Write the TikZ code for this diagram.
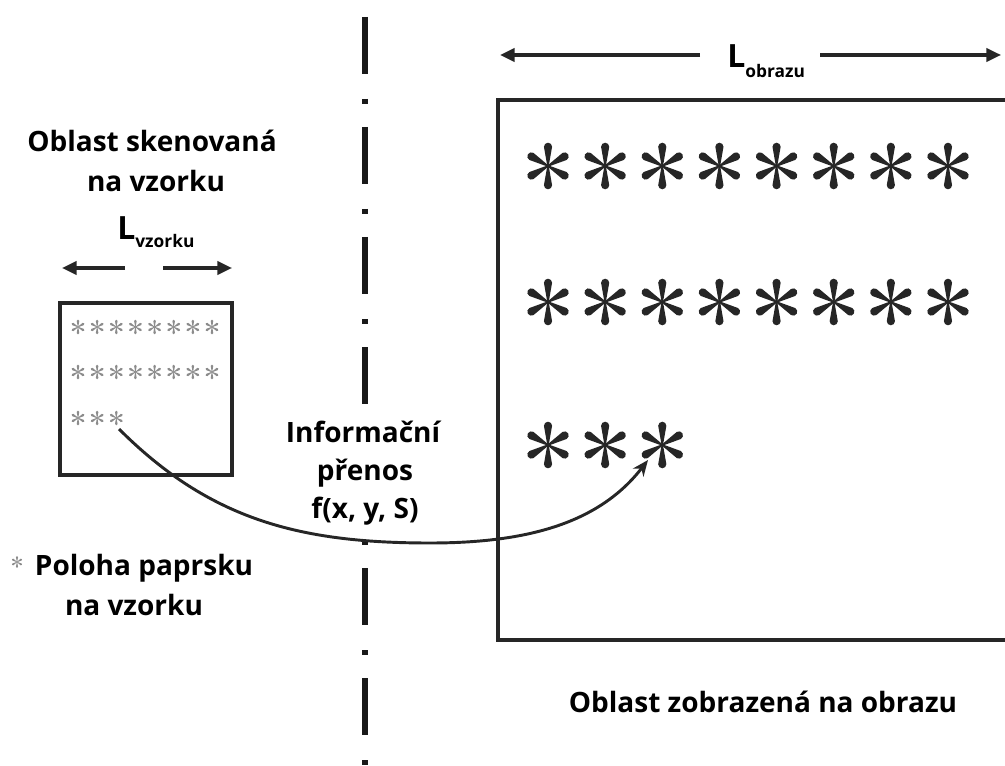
\documentclass[tikz,border=0pt]{standalone}
\usepackage{fontspec}
\setmainfont{Open Sans}
\usetikzlibrary{arrows.meta}
\begin{document}
\begin{tikzpicture}[x=0.75pt,y=-0.75pt,
  txt/.style={font=\fontsize{21}{25}\selectfont\bfseries, inner sep=0pt, anchor=base},
  lbl/.style={font=\fontsize{24}{24}\selectfont\bfseries, inner sep=0pt, anchor=base west},
  frame/.style={draw=black!85, line width=2.5pt},
  dimarrow/.style={draw=black!85, line width=2.3pt, -{Triangle[length=11pt,width=10pt]}},
  conn/.style={draw=black!85, line width=2.2pt, -{Stealth[length=12pt,width=10pt]}},
  axis/.style={draw=black!90, line width=3.8pt},
  bigstar/.style={black!85, scale=24},
  smallstar/.style={black!45, scale=7.5},
  ast/.pic={
    \foreach \a in {90,30,-30,-90,-150,150}{
      \fill[rotate=\a] (0,-0.03) -- (0.80,-0.17) arc[start angle=-90,end angle=90,radius=0.17] -- (0,0.03) -- cycle;}
    \fill (0,0) circle (0.07);}
]
\path[use as bounding box] (0,0) rectangle (1005,766);
\clip (0,0) rectangle (1005,766);

% dash-dot divider
\coordinate (axA) at (365,17);
\coordinate (axB) at (365,404);
\coordinate (axC) at (365,540);
\coordinate (axD) at (365,770);
\draw[axis, dash pattern=on 42.75pt off 18.75pt on 3.75pt off 17.25pt] (axA) -- (axB);
\draw[axis, dash pattern=on 42.75pt off 18.75pt on 3.75pt off 17.25pt, dash phase=61.5pt] (axC) -- (axD);

% left side: scanned area
\node[txt] (t1) at (152,152) {Oblast skenovaná};
\node[txt] (t2) at (156,192) {na vzorku};
\node[lbl] (lv) at (117,240) {L\raisebox{-6pt}{\fontsize{13}{13}\selectfont vzorku}};
\coordinate (lvLs) at (125,268);
\coordinate (lvL) at (62,268);
\coordinate (lvRs) at (163,268);
\coordinate (lvR) at (232,268);
\draw[dimarrow] (lvLs) -- (lvL);
\draw[dimarrow] (lvRs) -- (lvR);

\draw[frame] (60,303) rectangle (232,475);
\foreach \i in {0,...,7}{
  \pic[smallstar] at ({78+19.14*\i},327) {ast};
  \pic[smallstar] at ({78+19.14*\i},372) {ast};
}
\foreach \i in {0,1,2}{
  \pic[smallstar] at ({78+19.14*\i},418) {ast};
}

% legend
\pic[smallstar, scale=0.8] at (17,562) {ast};
\node[txt] (p1) at (144,575) {Poloha paprsku};
\node[txt] (p2) at (134,615) {na vzorku};

% right side: image area
\node[lbl] (lo) at (727,68) {L\raisebox{-7.5pt}{\fontsize{13}{13}\selectfont obrazu}};
\coordinate (loLs) at (700,55);
\coordinate (loL) at (500,55);
\coordinate (loRs) at (820,55);
\coordinate (loR) at (1001,55);
\draw[dimarrow] (loLs) -- (loL);
\draw[dimarrow] (loRs) -- (loR);

\draw[frame] (498,100) rectangle (1020,640);
\foreach \i in {0,...,7}{
  \pic[bigstar] at ({548+57.14*\i},166) {ast};
  \pic[bigstar] at ({548+57.14*\i},302) {ast};
}
\foreach \i in {0,1,2}{
  \pic[bigstar] at ({548+57.14*\i},445) {ast};
}
\node[txt] (b1) at (763,712) {Oblast zobrazená na obrazu};

% transfer
\node[txt] (inf1) at (363,442) {Informační};
\node[txt] (inf2) at (365,480) {přenos};
\node[txt] (inf3) at (365,518) {f(x, y, S)};
\coordinate (cstart) at (119,429);
\coordinate (cmid) at (430,543);
\coordinate (cend) at (648,460);
\draw[conn] (cstart) .. controls (210,520) and (300,543) .. (cmid)
            .. controls (530,543) and (600,522) .. (cend);
\end{tikzpicture}
\end{document}
